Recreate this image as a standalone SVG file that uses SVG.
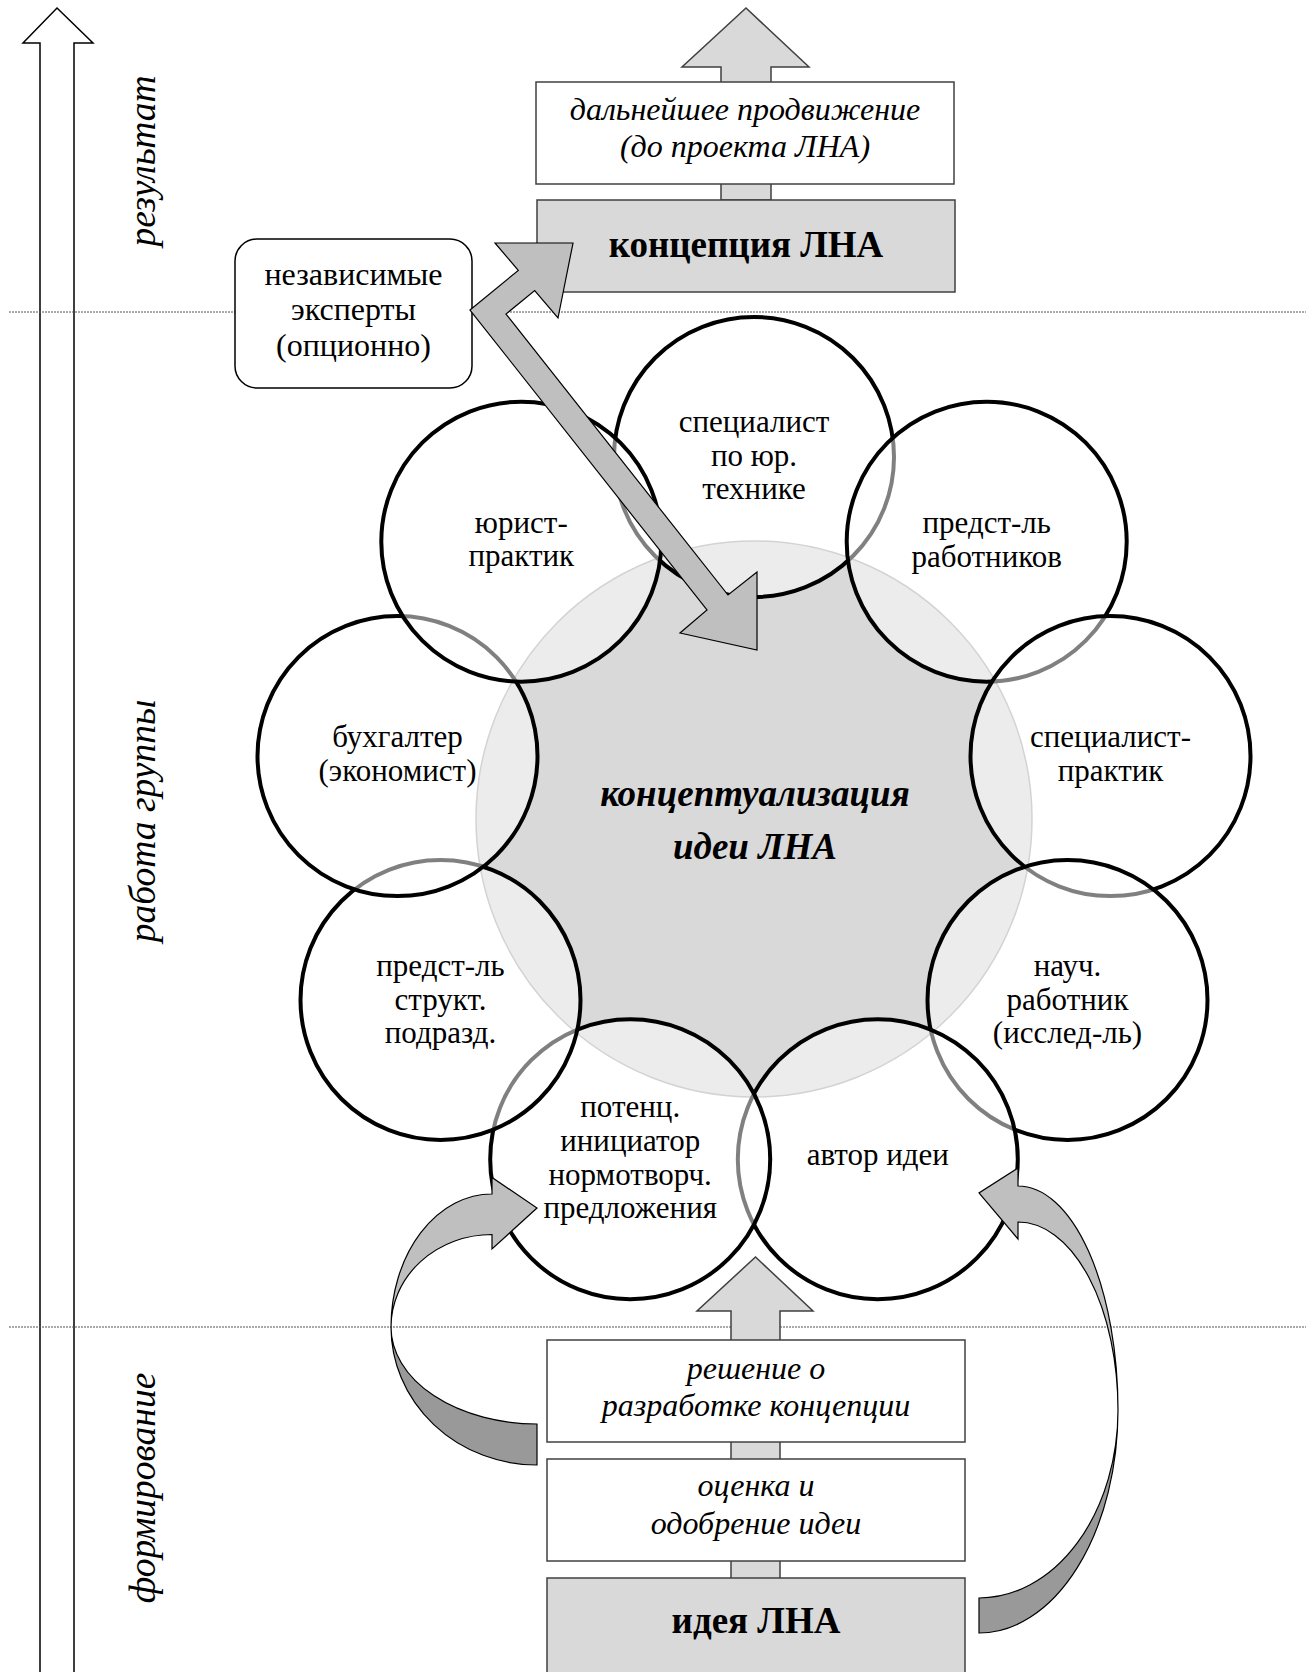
<svg xmlns="http://www.w3.org/2000/svg" width="1306" height="1672" viewBox="0 0 1306 1672">
<defs>
<style>
.t{font-family:"Liberation Serif","Times New Roman",serif;fill:#000}
.r{font-size:31px;text-anchor:middle}
.i{font-size:32px;font-style:italic;text-anchor:middle}
.b{font-size:37px;font-weight:bold;text-anchor:middle}
.bi{font-size:37px;font-weight:bold;font-style:italic;text-anchor:middle}
.side{font-size:37.5px;font-style:italic;text-anchor:middle}
.box{fill:#fff;stroke:#404040;stroke-width:1.5}
.gbox{fill:#d9d9d9;stroke:#404040;stroke-width:1.5}
.sc{fill:#fff;fill-opacity:0.5;stroke:#000;stroke-width:4}
.dash{stroke:#555;stroke-width:1;stroke-dasharray:2 1;fill:none}
.arr{fill:#d9d9d9;stroke:#404040;stroke-width:1.5}
.garr{fill:#bfbfbf;stroke:#000;stroke-width:1.2}
.darr{fill:#999;stroke:#000;stroke-width:1.2}
</style>
</defs>
<rect width="1306" height="1672" fill="#fff"/>

<g id="axis">
<polygon points="57,8 93,43 74,43 74,1690 40,1690 40,43 23,43" fill="#fff" stroke="#000" stroke-width="1.5"/>
</g>
<g id="dividers">
<line class="dash" x1="9" y1="312" x2="1306" y2="312"/>
<line class="dash" x1="9" y1="1327" x2="1306" y2="1327"/>
</g>
<g id="phase-labels">
<text class="t side" transform="translate(155,161) rotate(-90)">результат</text>
<text class="t side" transform="translate(155,821) rotate(-90)">работа группы</text>
<text class="t side" transform="translate(155,1488) rotate(-90)">формирование</text>
</g>

<g id="connectors">
<polygon class="arr" points="746,8 809,67 771,67 771,200 721,200 721,67 682,67"/>
<polygon class="arr" points="755.5,1257 813,1311 780,1311 780,1590 731,1590 731,1311 697,1311"/>
</g>

<g id="node-further">
<rect class="box" x="536" y="82" width="418" height="102"/>
<text class="t i" x="745" y="120">дальнейшее продвижение</text>
<text class="t i" x="745" y="157">(до проекта ЛНА)</text>
</g>
<g id="node-concept">
<rect class="gbox" x="537" y="200" width="418" height="92"/>
<text class="t b" x="746" y="257">концепция ЛНА</text>
</g>

<g id="node-center">
<circle cx="754" cy="819" r="278" fill="#d9d9d9" stroke="#a6a6a6" stroke-width="1.5"/>
</g>

<g id="node-c0"><circle class="sc" cx="754" cy="457" r="140"/>
<text class="t r"><tspan x="754" y="432">специалист</tspan><tspan x="754" y="466">по юр.</tspan><tspan x="754" y="499">технике</tspan></text></g>
<g id="node-c1"><circle class="sc" cx="986.7" cy="541.7" r="140"/>
<text class="t r"><tspan x="986.7" y="533">предст-ль</tspan><tspan x="986.7" y="567">работников</tspan></text></g>
<g id="node-c2"><circle class="sc" cx="1110.5" cy="756.1" r="140"/>
<text class="t r"><tspan x="1110.5" y="747">специалист-</tspan><tspan x="1110.5" y="781">практик</tspan></text></g>
<g id="node-c3"><circle class="sc" cx="1067.5" cy="1000" r="140"/>
<text class="t r"><tspan x="1067.5" y="976">науч.</tspan><tspan x="1067.5" y="1010">работник</tspan><tspan x="1067.5" y="1043">(исслед-ль)</tspan></text></g>
<g id="node-c4"><circle class="sc" cx="877.8" cy="1159.2" r="140"/>
<text class="t r" x="877.8" y="1165">автор идеи</text></g>
<g id="node-c5"><circle class="sc" cx="630.2" cy="1159.2" r="140"/>
<text class="t r"><tspan x="630.2" y="1117">потенц.</tspan><tspan x="630.2" y="1151">инициатор</tspan><tspan x="630.2" y="1185">нормотворч.</tspan><tspan x="630.2" y="1218">предложения</tspan></text></g>
<g id="node-c6"><circle class="sc" cx="440.5" cy="1000" r="140"/>
<text class="t r"><tspan x="440.5" y="976">предст-ль</tspan><tspan x="440.5" y="1010">структ.</tspan><tspan x="440.5" y="1043">подразд.</tspan></text></g>
<g id="node-c7"><circle class="sc" cx="397.5" cy="756.1" r="140"/>
<text class="t r"><tspan x="397.5" y="747">бухгалтер</tspan><tspan x="397.5" y="781">(экономист)</tspan></text></g>
<g id="node-c8"><circle class="sc" cx="521.3" cy="541.7" r="140"/>
<text class="t r"><tspan x="521.3" y="533">юрист-</tspan><tspan x="521.3" y="566">практик</tspan></text></g>

<g id="node-center-label">
<text class="t bi" x="755" y="806">концептуализация</text>
<text class="t bi" x="755" y="859">идеи ЛНА</text>
</g>

<g id="node-experts">
<rect x="235" y="239" width="237" height="149" rx="22" fill="#fff" stroke="#000" stroke-width="1.5"/>
<text class="t r" style="font-size:32px"><tspan x="353.5" y="285">независимые</tspan><tspan x="353.5" y="320">эксперты</tspan><tspan x="353.5" y="356">(опционно)</tspan></text>
</g>

<g id="connectors-2">
<polygon class="garr" points="470,310 518.3,270.4 495,243 573,243 558,318 534.7,290.6 506,314 728,595 757,572 757,650 680,633 707,610"/>
<path class="darr" d="M391,1327 A146 138 0 0 0 537,1465 L537,1424 A146 97 0 0 1 391,1327 Z"/>
<path class="garr" d="M391,1327 A101 133 0 0 1 492,1194 L492,1177.5 L537,1208 L492,1249 L492,1234.5 A101 92.5 0 0 0 391,1327 Z"/>
<path class="darr" d="M1118,1410 A139 223 0 0 1 979,1633 L979,1598 A139 188 0 0 0 1118,1410 Z"/>
<path class="garr" d="M1118,1410 A100 224 0 0 0 1018,1186 L1018,1168 L979,1193 L1018,1239 L1018,1222 A100 188 0 0 1 1118,1410 Z"/>
</g>

<g id="node-decision">
<rect class="box" x="547" y="1340" width="418" height="102"/>
<text class="t i" x="756" y="1379">решение о</text>
<text class="t i" x="756" y="1416">разработке концепции</text>
</g>
<g id="node-approval">
<rect class="box" x="547" y="1459" width="418" height="102"/>
<text class="t i" x="756" y="1496">оценка и</text>
<text class="t i" x="756" y="1534">одобрение идеи</text>
</g>
<g id="node-idea">
<rect class="gbox" x="547" y="1578" width="418" height="110"/>
<text class="t b" x="756" y="1633">идея ЛНА</text>
</g>
</svg>
